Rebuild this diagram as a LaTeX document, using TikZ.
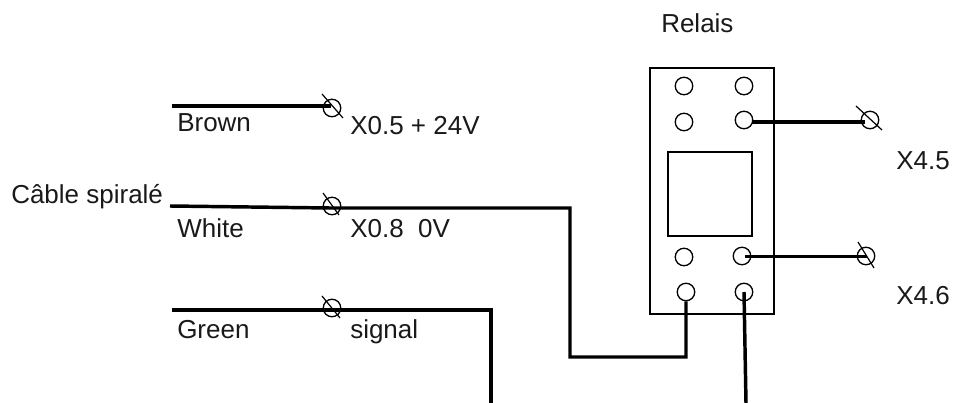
\documentclass[tikz,border=0pt]{standalone}
\usepackage{fontspec}
\setmainfont{Liberation Sans}
\tikzset{
  thinline/.style={line width=0.9pt,black},
  wire/.style={line width=2.6pt,black,line join=miter},
  pin/.style={circle,draw,line width=1pt,fill=white,minimum size=17.5*0.75pt,inner sep=0pt},
  term/.style={circle,draw,line width=1pt,minimum size=17.5*0.75pt,inner sep=0pt},
  label/.style={inner sep=0pt,anchor=base west,font=\fontsize{19.5pt}{22pt}\selectfont,text=black!90}
}
\begin{document}
\begin{tikzpicture}[x=0.75pt,y=-0.75pt]
\useasboundingbox (0,0) rectangle (954,403);
% relay body
\draw[thinline] (650,68) rectangle (774,314);
\draw[thinline] (668,152) rectangle (752,236);
% free ends
\coordinate (bs) at (172,106);
\coordinate (be) at (331,106);
\coordinate (ws) at (170,206);
\coordinate (wm) at (330,208);
\coordinate (wc1) at (570,208);
\coordinate (wc2) at (570,357);
\coordinate (wc3) at (686,357);
\coordinate (gs) at (172,310);
\coordinate (gc1) at (491,310);
\coordinate (ge) at (491,403);
\coordinate (re) at (746,403);
\coordinate (w4a) at (752,122);
\coordinate (w4b) at (865,122);
\coordinate (w6a) at (745,256.5);
\coordinate (w6b) at (867,256.5);
% pins
\node[pin] (p1) at (684,86) {};
\node[pin] (p2) at (744,86) {};
\node[pin] (p3) at (684,122) {};
\node[pin] (p4) at (744,120) {};
\node[pin] (p5) at (684,257) {};
\node[pin] (p6) at (742,256) {};
\node[pin] (p7) at (686,292) {};
\node[pin] (p8) at (744,292) {};
% terminals
\node[term] (t1) at (332,108) {};
\node[term] (t2) at (332,206) {};
\node[term] (t3) at (332,308) {};
\node[term] (t4) at (870,120) {};
\node[term] (t5) at (866,256) {};
% slashes
\draw[thinline] (322,94) -- (343,118);
\draw[thinline] (323,193) -- (339,215);
\draw[thinline] (322,296) -- (340,318);
\draw[thinline] (856,106) -- (882,130);
\draw[thinline] (858,242) -- (874,268);
% wires
\draw[wire] (bs) -- (be);
\draw[wire] (ws) -- (wm) -- (wc1) -- (wc2) -- (wc3) -- (p7.south);
\draw[wire] (gs) -- (gc1) -- (ge);
\draw[wire] (w4a) -- (w4b);
\draw[wire] (w6a) -- (w6b);
\draw[wire] (p8.center) -- (re);
% labels
\node[label] (l0) at (661,33) {Relais};
\node[label] (l1) at (177,132) {Brown};
\node[label] (l2) at (350,135) {X0.5 + 24V};
\node[label] (l3) at (11,204) {Câble spiralé};
\node[label] (l4) at (177,237) {White};
\node[label] (l5) at (350,237) {X0.8\ \ 0V};
\node[label] (l6) at (177,338) {Green};
\node[label] (l7) at (350,338) {signal};
\node[label] (l8) at (896,170) {X4.5};
\node[label] (l9) at (896,304) {X4.6};
\end{tikzpicture}
\end{document}
